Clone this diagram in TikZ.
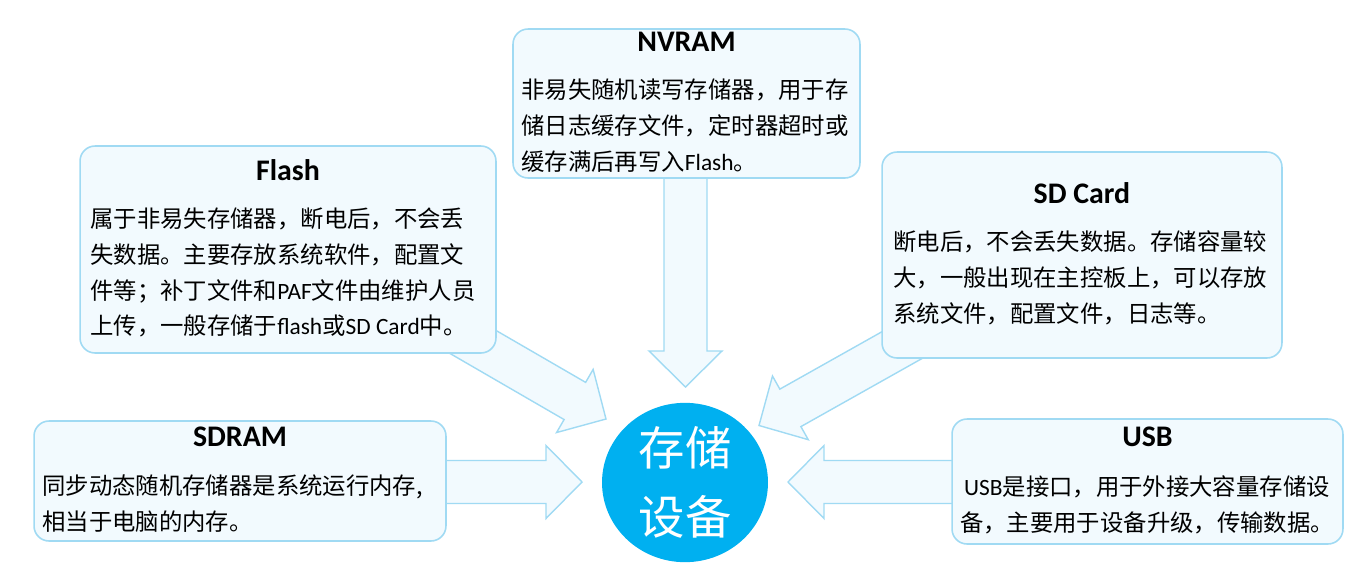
\documentclass[tikz,border=0pt]{standalone}
\usepackage{fontspec}
\setmainfont{Noto Sans CJK SC}
\newfontfamily\latfont{Carlito}
\usetikzlibrary{calc,shapes.geometric,positioning}
\definecolor{skyline}{RGB}{160,218,243}
\definecolor{skyfill}{RGB}{242,250,254}
\definecolor{coreblue}{RGB}{0,176,240}
\tikzset{
  memobox/.style={draw=skyline, fill=skyfill, line width=0.9pt, rounded corners=0.3cm, inner sep=0},
  memotitle/.style={font={\latfont\bfseries\fontsize{17}{20}\selectfont}, inner sep=0},
  memotext/.style={font={\fontsize{13.3}{20.4}\selectfont}, align=left, inner sep=0, anchor=west},
}
\begin{document}
\begin{tikzpicture}[x=0.02cm, y=-0.02cm]
        \useasboundingbox (0,0) rectangle (1350,572);
        % arrow ends
        \coordinate (tail-flash) at (442,324);
        \coordinate (tip-flash) at (606,419);
        \coordinate (tail-nvram) at (685.5,150);
        \coordinate (tip-nvram) at (685.5,387);
        \coordinate (tail-sd) at (936,326);
        \coordinate (tip-sd) at (759,425.5);
        \coordinate (tail-sdram) at (400,482);
        \coordinate (tip-sdram) at (582,482);
        \coordinate (tail-usb) at (1000,482);
        \coordinate (tip-usb) at (788,482);
        % block arrows
        \foreach \src/\dst in {tail-flash/tip-flash, tail-nvram/tip-nvram, tail-sd/tip-sd, tail-sdram/tip-sdram, tail-usb/tip-usb}
        {
            \coordinate (hb) at ($(\dst)!0.72cm!(\src)$);
            \path[draw=skyline, fill=skyfill, line width=0.8pt]($(\src)!0.43cm!90:(\dst)$)--($(hb)!0.43cm!90:(\dst)$)--($(hb)!0.73cm!90:(\dst)$)--(\dst)--($(hb)!0.73cm!-90:(\dst)$)--($(hb)!0.43cm!-90:(\dst)$)--($(\src)!0.43cm!-90:(\dst)$)--cycle;
        }
        % boxes
        \node[memobox, minimum width=8.32cm, minimum height=4.14cm](flash)at(288,249.5){};
        \node[memobox, minimum width=6.94cm, minimum height=2.98cm](nvram)at(686.5,103.5){};
        \node[memobox, minimum width=8.0cm, minimum height=4.12cm](sd)at(1082,255){};
        \node[memobox, minimum width=8.24cm, minimum height=2.4cm](sdram)at(240,481){};
        \node[memobox, minimum width=7.82cm, minimum height=2.5cm](usb)at(1147.5,481.5){};
        % titles
        \node[memotitle](flash-title)at(288,170){Flash};
        \node[memotitle](nvram-title)at(686.5,42){NVRAM};
        \node[memotitle](sd-title)at(1082,193){SD Card};
        \node[memotitle](sdram-title)at(240,437){SDRAM};
        \node[memotitle](usb-title)at(1147.5,437){USB};
        % texts
        \node[memotext](flash-text)at(90,272.5){属于非易失存储器，断电后，不会丢\\失数据。主要存放系统软件，配置文\\件等；补丁文件和{\latfont PAF}文件由维护人员\\上传，一般存储于{\latfont flash}或{\latfont SD Card}中。};
        \node[memotext](nvram-text)at(521,125.5){非易失随机读写存储器，用于存\\储日志缓存文件，定时器超时或\\缓存满后再写入{\latfont Flash}。};
        \node[memotext](sd-text)at(893,278){断电后，不会丢失数据。存储容量较\\大，一般出现在主控板上，可以存放\\系统文件，配置文件，日志等。};
        \node[memotext](sdram-text)at(42,504){同步动态随机存储器是系统运行内存,\\相当于电脑的内存。};
        \node[memotext, align=center, anchor=center](usb-text)at(1147,504.5){{\latfont USB}是接口，用于外接大容量存储设\\备，主要用于设备升级，传输数据。};
        % centre
        \node[ellipse, fill=coreblue, minimum width=3.32cm, minimum height=3.12cm, inner sep=0, text=white, align=center, font={\fontsize{26.4}{39.7}\selectfont}](core)at(685,482.5){存储\\设备};
    \end{tikzpicture}
\end{document}
